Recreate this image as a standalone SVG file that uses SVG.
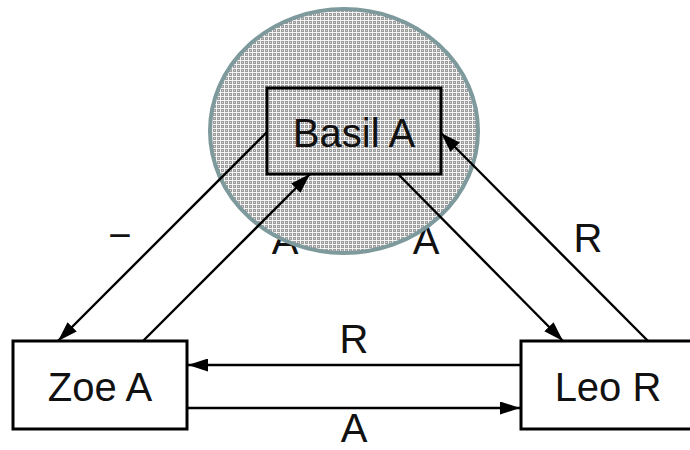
<svg xmlns="http://www.w3.org/2000/svg" width="690" height="450" viewBox="0 0 690 450">
<style>
.box{fill:#fff;stroke:#000;stroke-width:3}
.boxt{fill:none;stroke:#000;stroke-width:3}
.edge{fill:none;stroke:#000;stroke-width:2.4}
.t{font-family:"Liberation Sans",Arial,sans-serif;font-size:40px;fill:#111;text-anchor:middle}
</style>
<defs>
<pattern id="chk" width="4" height="4" patternUnits="userSpaceOnUse">
<rect width="4" height="4" fill="#9c9c9c"/>
<rect x="0" y="0" width="4" height="1" fill="#f4f4f4"/>
<rect x="0" y="0" width="1" height="4" fill="#f4f4f4"/>
<rect x="2" y="2" width="1" height="1" fill="#d8d8d8"/>
</pattern>
<marker id="arr" viewBox="0 0 20 13" refX="20" refY="6.5" markerWidth="20" markerHeight="13" markerUnits="userSpaceOnUse" orient="auto">
<path d="M0,0 L20,6.5 L0,13 Z" fill="#000"/>
</marker>
</defs>
<rect width="690" height="450" fill="#fff"/>
<g id="edge-labels">
<text class="t" x="120" y="249">−</text>
<text class="t" x="285" y="254">A</text>
<text class="t" x="426" y="254">A</text>
<text class="t" x="588" y="252">R</text>
<text class="t" x="354" y="353">R</text>
<text class="t" x="354" y="442">A</text>
</g>
<ellipse id="highlight" cx="344" cy="131" rx="134" ry="122" fill="url(#chk)" stroke="#7e9a9c" stroke-width="4"/>
<g id="connectors">
<line class="edge" x1="267" y1="132" x2="58" y2="341" marker-end="url(#arr)"/>
<line class="edge" x1="143" y1="341" x2="310" y2="174" marker-end="url(#arr)"/>
<line class="edge" x1="398" y1="174" x2="563" y2="341" marker-end="url(#arr)"/>
<line class="edge" x1="648" y1="341" x2="441" y2="133" marker-end="url(#arr)"/>
<line class="edge" x1="521" y1="365" x2="188" y2="365" marker-end="url(#arr)"/>
<line class="edge" x1="187" y1="408" x2="520" y2="408" marker-end="url(#arr)"/>
</g>
<g id="basil">
<rect class="boxt" x="267" y="88" width="174" height="86"/>
<text class="t" x="354" y="147">Basil A</text>
</g>
<g id="zoe">
<rect class="box" x="13" y="341" width="174" height="88"/>
<text class="t" x="100" y="401">Zoe A</text>
</g>
<g id="leo">
<rect class="box" x="521" y="341" width="176" height="88"/>
<text class="t" x="608" y="401">Leo R</text>
</g>
</svg>
